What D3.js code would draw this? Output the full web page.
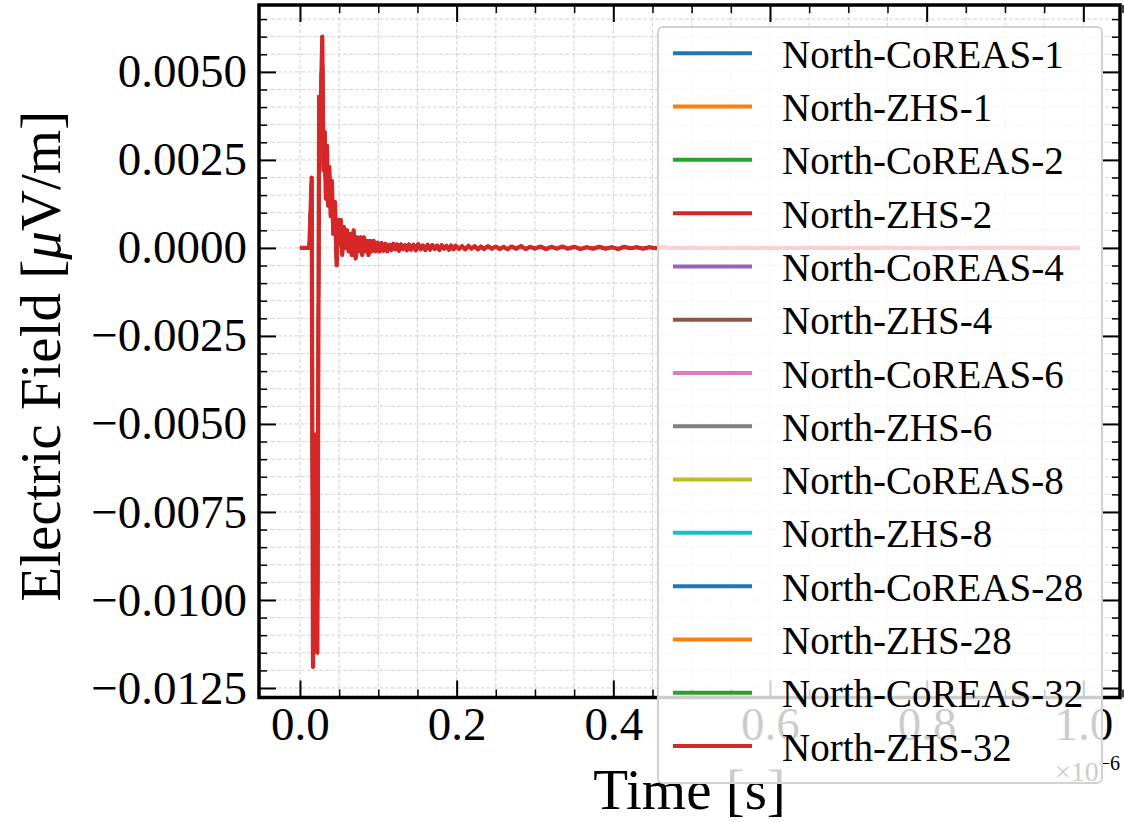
<!DOCTYPE html>
<html>
<head>
<meta charset="utf-8">
<script src="https://cdn.jsdelivr.net/npm/d3@7"></script>
<style>
  body { margin: 0; background: #fff; }
  svg { display: block; }
  text { font-family: "Liberation Serif", "Times New Roman", serif; fill: #000; }
</style>
</head>
<body>
<div id="chart"></div>
<script>
// legend entries, in plot order (the last one is drawn on top)
const seriesNames = [
  'North-CoREAS-1', 'North-ZHS-1', 'North-CoREAS-2', 'North-ZHS-2',
  'North-CoREAS-4', 'North-ZHS-4', 'North-CoREAS-6', 'North-ZHS-6',
  'North-CoREAS-8', 'North-ZHS-8', 'North-CoREAS-28', 'North-ZHS-28',
  'North-CoREAS-32', 'North-ZHS-32',
]
const seriesColors = [
  '#1f77b4', '#ff7f0e', '#2ca02c', '#d62728', '#9467bd', '#8c564b', '#e377c2',
  '#7f7f7f', '#bcbd22', '#17becf', '#1f77b4', '#ff7f0e', '#2ca02c', '#d62728',
]

// trace: [time (x1e-6 s), field (uV/m)]
// all traces sit on top of each other, only the last colour shows
const trace = [
  [0.0000, 0.0000], [0.0119, 0.0000], [0.0149, 0.0020], [0.0166, -0.0119],
  [0.0195, -0.0053], [0.0222, -0.0115], [0.0245, 0.0043], [0.0262, 0.0038],
  [0.0285, 0.0060], [0.0300, 0.0022], [0.0315, 0.0033], [0.0330, 0.0014],
  [0.0345, 0.0029], [0.0360, 0.0012], [0.0375, 0.0023], [0.0392, 0.0009],
  [0.0408, 0.0019], [0.0425, 0.0004], [0.0447, 0.0013], [0.0468, -0.0005],
  [0.0485, 0.0008], [0.0500, 0.0001], [0.0520, 0.0008], [0.0540, -0.0002],
  [0.0560, 0.0006], [0.0580, 0.0000], [0.0600, 0.0005], [0.0620, -0.0001],
  [0.0640, 0.0004], [0.0660, -0.0002], [0.0685, 0.0005], [0.0710, -0.0003],
  [0.0735, 0.0003], [0.0755, -0.0001], [0.0775, 0.0003], [0.0795, -0.0002],
  [0.0815, 0.0003], [0.0835, -0.0001], [0.0855, 0.0002], [0.0875, -0.0002],
  [0.0895, 0.0002], [0.0915, -0.0001], [0.0940, 0.0002], [0.0965, -0.0001],
  [0.0990, 0.00015], [0.1015, -0.0001], [0.1040, 0.00014], [0.1065, -0.00008],
  [0.1090, 0.00012], [0.1115, -0.00010], [0.1140, 0.00009], [0.1165, -0.00006],
  [0.1190, 0.00012], [0.1215, -0.00004], [0.1240, 0.00010], [0.1265, -0.00008],
  [0.1290, 0.00010], [0.1315, -0.00003], [0.1340, 0.00008], [0.1365, -0.00007],
  [0.1390, 0.00010], [0.1420, -0.00005], [0.1450, 0.00009], [0.1480, -0.00007],
  [0.1510, 0.00011], [0.1540, -0.00004], [0.1570, 0.00007], [0.1600, -0.00006],
  [0.1630, 0.00009], [0.1660, -0.00005], [0.1690, 0.00008], [0.1720, -0.00003],
  [0.1750, 0.00007], [0.1780, -0.00006], [0.1810, 0.00008], [0.1840, -0.00002],
  [0.1870, 0.00006], [0.1900, -0.00005], [0.1930, 0.00007], [0.1960, -0.00004],
  [0.1990, 0.00006], [0.2030, -0.00003], [0.2070, 0.00005], [0.2110, -0.00004],
  [0.2150, 0.00006], [0.2190, -0.00002], [0.2230, 0.00005], [0.2270, -0.00004],
  [0.2310, 0.00004], [0.2350, -0.00003], [0.2400, 0.00005], [0.2450, -0.00002],
  [0.2500, 0.00004], [0.2550, -0.00003], [0.2600, 0.00003], [0.2650, -0.00004],
  [0.2700, 0.00004], [0.2760, -0.00002], [0.2820, 0.00005], [0.2880, -0.00003],
  [0.2940, 0.00003], [0.3000, -0.00002], [0.3070, 0.00004], [0.3140, -0.00003],
  [0.3210, 0.00003], [0.3280, -0.00002], [0.3350, 0.00004], [0.3420, -0.00002],
  [0.3500, 0.00003], [0.3580, -0.00003], [0.3660, 0.00002], [0.3740, -0.00002],
  [0.3820, 0.00003], [0.3900, -0.00002], [0.3980, 0.00002], [0.4060, -0.00003],
  [0.4140, 0.00003], [0.4220, -0.00001], [0.4300, 0.00002], [0.4380, -0.00002],
  [0.4460, 0.00002], [0.4540, -0.00001], [0.4620, 0.00002], [0.4800, -0.00001],
  [0.5000, 0.00001], [0.5300, -0.00001], [0.5600, 0.00001], [0.6000, -0.00001],
  [0.6500, 0.00001], [0.7000, 0.0000], [0.7500, 0.00001], [0.8000, -0.00001],
  [0.8500, 0.0000], [0.9000, 0.00001], [0.9500, 0.0000], [0.9950, 0.0000],
]

const xTicks = [0, 0.2, 0.4, 0.6, 0.8, 1.0]
const xTickLabels = ['0.0', '0.2', '0.4', '0.6', '0.8', '1.0']
const xMinorTicks = [0.05, 0.1, 0.15, 0.25, 0.3, 0.35, 0.45, 0.5, 0.55, 0.65, 0.7,
  0.75, 0.85, 0.9, 0.95, 1.05]
const yTicks = [0.005, 0.0025, 0, -0.0025, -0.005, -0.0075, -0.01, -0.0125]
const yTickLabels = ['0.0050', '0.0025', '0.0000', '\u22120.0025', '\u22120.0050',
  '\u22120.0075', '\u22120.0100', '\u22120.0125']
const yMinorTicks = d3.range(-25, 14).map(k => k * 0.0005)
  .filter(v => !yTicks.some(t => Math.abs(t - v) < 1e-9))

const width = 1124
const height = 822
const box = { left: 259, right: 1120, top: 5, bottom: 697.5 }

const svg = d3.select('#chart').append('svg')
  .attr('width', width)
  .attr('height', height)

const x = d3.scaleLinear().domain([-0.0523, 1.0468]).range([box.left, box.right])
const y = d3.scaleLinear().domain([-0.01277, 0.0069]).range([box.bottom, box.top])

svg.append('clipPath').attr('id', 'plot-clip')
  .append('rect')
  .attr('x', box.left).attr('y', box.top)
  .attr('width', box.right - box.left).attr('height', box.bottom - box.top)

// dashed grid on major and minor ticks
const grid = svg.append('g').attr('stroke', '#cfcfcf').attr('stroke-width', 0.9)
  .attr('stroke-dasharray', '4,2')
grid.selectAll('.gx').data(xTicks.concat(xMinorTicks).filter(v => x(v) < box.right - 1))
  .enter().append('line')
  .attr('x1', d => x(d)).attr('x2', d => x(d))
  .attr('y1', box.top).attr('y2', box.bottom)
grid.selectAll('.gy').data(yTicks.concat(yMinorTicks))
  .enter().append('line')
  .attr('y1', d => y(d)).attr('y2', d => y(d))
  .attr('x1', box.left).attr('x2', box.right)

const line = d3.line().x(d => x(d[0])).y(d => y(d[1]))
const last = seriesNames.length - 1

// the top trace is a touch wider so the ones under it do not bleed at the edges
svg.append('g').attr('clip-path', 'url(#plot-clip)')
  .selectAll('path')
  .data(seriesNames)
  .enter().append('path')
  .attr('d', () => line(trace))
  .attr('fill', 'none')
  .attr('stroke', (d, i) => seriesColors[i])
  .attr('stroke-width', (d, i) => (i === last ? 4.2 : 3))
  .attr('stroke-linejoin', 'round')

// inward ticks on all four sides
function styleAxis(g, fontSize) {
  g.select('.domain').remove()
  g.selectAll('.tick line').attr('stroke', '#000')
  g.selectAll('.tick text').attr('font-size', fontSize).attr('fill', '#000')
    .attr('font-family', '"Liberation Serif", "Times New Roman", serif')
}

const major = 17
const minor = 8

svg.append('g').attr('transform', `translate(0,${box.bottom})`)
  .call(d3.axisBottom(x).tickValues(xTicks).tickFormat((d, i) => xTickLabels[i])
    .tickSizeInner(-major).tickSizeOuter(0).tickPadding(9))
  .call(g => styleAxis(g, 47))
  .call(g => g.selectAll('.tick line').attr('stroke-width', 2))
svg.append('g').attr('transform', `translate(0,${box.bottom})`)
  .call(d3.axisBottom(x).tickValues(xMinorTicks).tickFormat('')
    .tickSizeInner(-minor).tickSizeOuter(0))
  .call(g => styleAxis(g, 0))
  .call(g => g.selectAll('.tick line').attr('stroke-width', 1.5))
svg.append('g').attr('transform', `translate(0,${box.top})`)
  .call(d3.axisTop(x).tickValues(xTicks).tickFormat('')
    .tickSizeInner(-major).tickSizeOuter(0))
  .call(g => styleAxis(g, 0))
  .call(g => g.selectAll('.tick line').attr('stroke-width', 2))
svg.append('g').attr('transform', `translate(0,${box.top})`)
  .call(d3.axisTop(x).tickValues(xMinorTicks).tickFormat('')
    .tickSizeInner(-minor).tickSizeOuter(0))
  .call(g => styleAxis(g, 0))
  .call(g => g.selectAll('.tick line').attr('stroke-width', 1.5))

svg.append('g').attr('transform', `translate(${box.left},0)`)
  .call(d3.axisLeft(y).tickValues(yTicks).tickFormat((d, i) => yTickLabels[i])
    .tickSizeInner(-major).tickSizeOuter(0).tickPadding(12))
  .call(g => styleAxis(g, 47))
  .call(g => g.selectAll('.tick line').attr('stroke-width', 2))
svg.append('g').attr('transform', `translate(${box.left},0)`)
  .call(d3.axisLeft(y).tickValues(yMinorTicks).tickFormat('')
    .tickSizeInner(-minor).tickSizeOuter(0))
  .call(g => styleAxis(g, 0))
  .call(g => g.selectAll('.tick line').attr('stroke-width', 1.5))
svg.append('g').attr('transform', `translate(${box.right},0)`)
  .call(d3.axisRight(y).tickValues(yTicks).tickFormat('')
    .tickSizeInner(-major).tickSizeOuter(0))
  .call(g => styleAxis(g, 0))
  .call(g => g.selectAll('.tick line').attr('stroke-width', 2))
svg.append('g').attr('transform', `translate(${box.right},0)`)
  .call(d3.axisRight(y).tickValues(yMinorTicks).tickFormat('')
    .tickSizeInner(-minor).tickSizeOuter(0))
  .call(g => styleAxis(g, 0))
  .call(g => g.selectAll('.tick line').attr('stroke-width', 1.5))

svg.append('rect')
  .attr('x', box.left).attr('y', box.top)
  .attr('width', box.right - box.left).attr('height', box.bottom - box.top)
  .attr('fill', 'none').attr('stroke', '#000').attr('stroke-width', 3.5)

// axis titles
svg.append('text')
  .attr('x', (box.left + box.right) / 2).attr('y', 809)
  .attr('text-anchor', 'middle').attr('font-size', 57)
  .text('Time [s]')

const yTitle = svg.append('text')
  .attr('transform', `translate(60,${(box.top + box.bottom) / 2 + 5}) rotate(-90)`)
  .attr('text-anchor', 'middle').attr('font-size', 57)
yTitle.append('tspan').text('Electric Field [')
yTitle.append('tspan').attr('font-style', 'italic').text('\u03bc')
yTitle.append('tspan').text('V/m]')

// offset text of the x axis
const offset = svg.append('text')
  .attr('x', box.right).attr('y', 781).attr('text-anchor', 'end').attr('font-size', 28)
offset.append('tspan').text('\u00d710')
offset.append('tspan').attr('font-size', 20).attr('dy', -11).text('\u22126')

// legend
const legend = svg.append('g')
legend.append('rect')
  .attr('x', 658).attr('y', 27).attr('width', 444).attr('height', 756).attr('rx', 5)
  .attr('fill', '#fff').attr('fill-opacity', 0.8)
  .attr('stroke', '#d2d2d2').attr('stroke-width', 2)

const rowY = d3.scaleLinear().domain([0, 13]).range([53.3, 746])
seriesNames.forEach((name, i) => {
  legend.append('line')
    .attr('x1', 673).attr('x2', 752)
    .attr('y1', rowY(i)).attr('y2', rowY(i))
    .attr('stroke', seriesColors[i]).attr('stroke-width', 4)
  legend.append('text')
    .attr('x', 782).attr('y', rowY(i) + 14.5)
    .attr('font-size', 39)
    .text(name)
})
</script>
</body>
</html>
